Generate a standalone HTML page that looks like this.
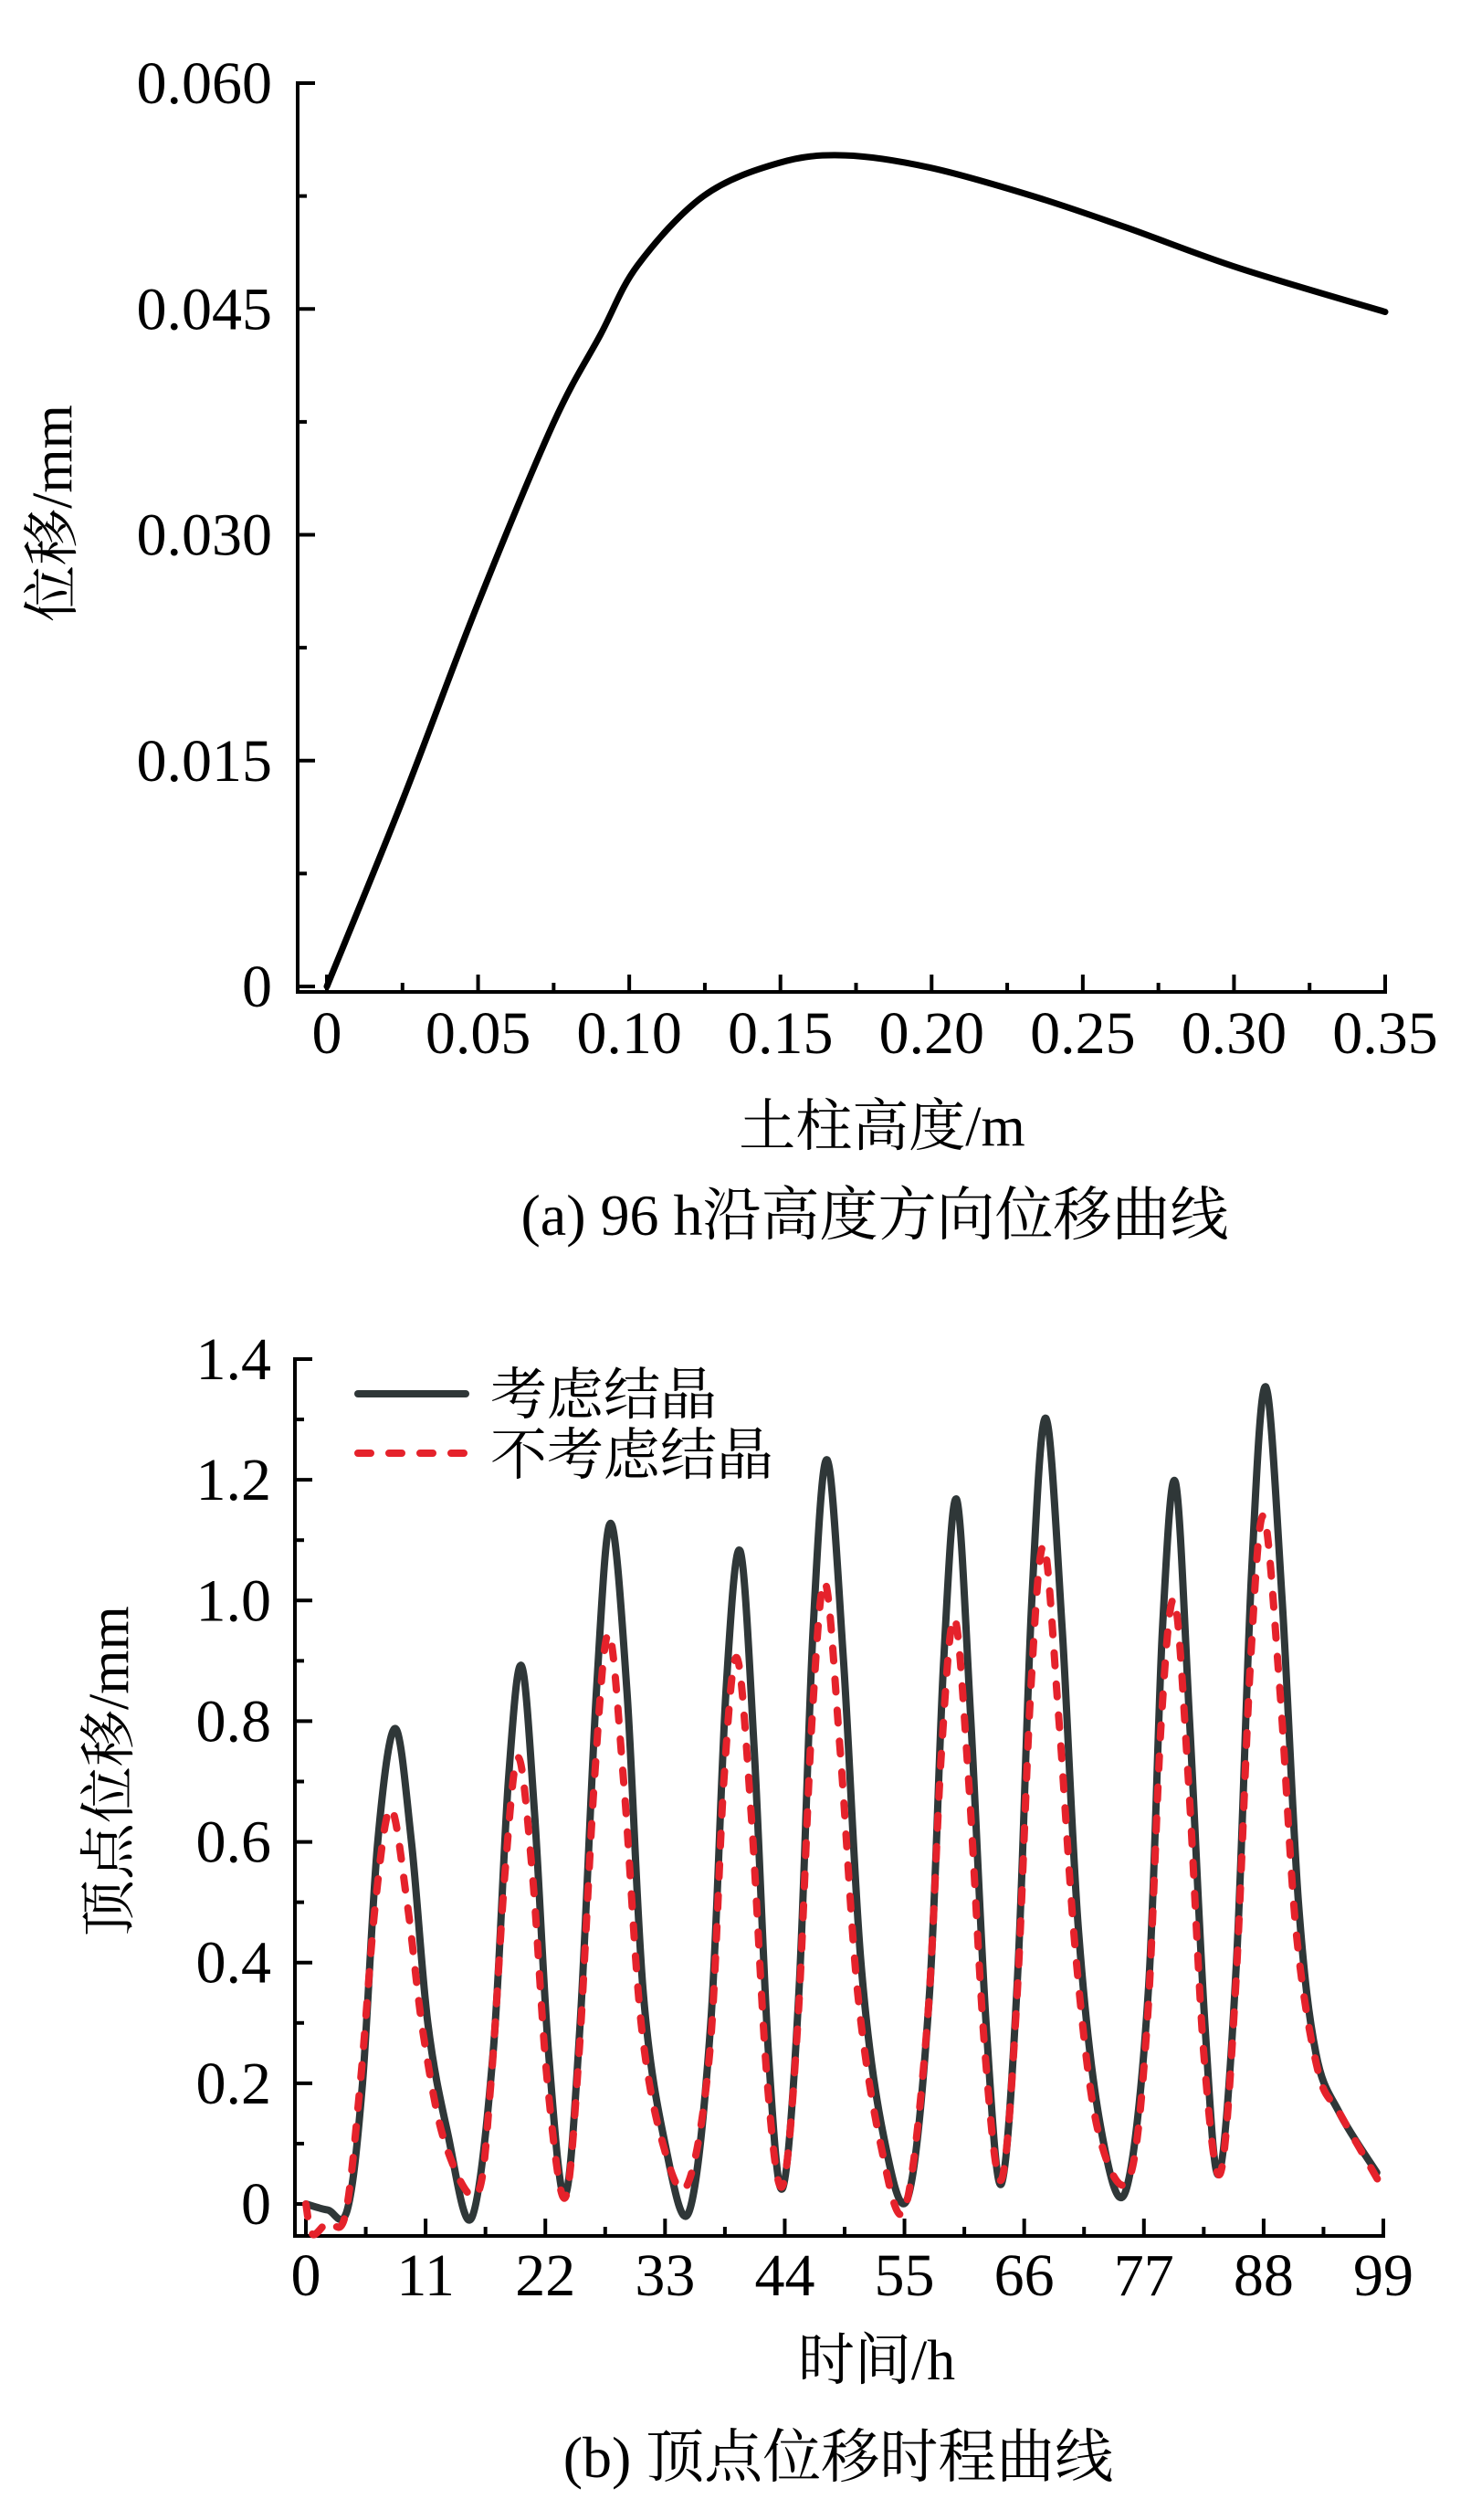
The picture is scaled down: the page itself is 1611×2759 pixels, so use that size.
<!DOCTYPE html>
<html><head><meta charset="utf-8">
<style>
html,body{margin:0;padding:0;background:#fff;}
svg{display:block;}
text{font-family:"Liberation Serif","Noto Serif CJK SC",serif;fill:#000;}
</style></head>
<body>
<svg id="fig" width="1611" height="2759" viewBox="0 0 1611 2759" xmlns="http://www.w3.org/2000/svg">
<g id="chartA"></g>
<g id="chartB"></g>
<text x="958" y="1352" font-size="64" text-anchor="middle">(a) 96 h沿高度方向位移曲线</text>
<text x="918" y="2712" font-size="64" text-anchor="middle">(b) 顶点位移时程曲线</text>
</svg>
<script>
// ---- Chart A data ----
const aHeights = [0, 0.0252, 0.05, 0.0749, 0.0905, 0.1028, 0.1246, 0.1495, 0.1713, 0.1992, 0.2334, 0.2645, 0.3018, 0.35];
const aDisp = [0, 0.01245, 0.02545, 0.0374, 0.0433, 0.0479, 0.0525, 0.0547, 0.0552, 0.0544, 0.0525, 0.0504, 0.0477, 0.0448];
const aXTicks = [0, 0.05, 0.10, 0.15, 0.20, 0.25, 0.30, 0.35];
const aXTickLabels = ["0", "0.05", "0.10", "0.15", "0.20", "0.25", "0.30", "0.35"];
const aYTicks = [0, 0.015, 0.030, 0.045, 0.060];
const aYTickLabels = ["0", "0.015", "0.030", "0.045", "0.060"];

// ---- Chart B data ----
const bTimeCryst = [0,2,3.8,5.2,6.6,8.2,9.7,11.2,13,15.2,17.2,18.6,19.8,21,22.3,23.8,25.2,26.7,28,29.5,31,33,35.2,37.2,38.6,39.9,41.2,42.5,43.8,45.3,46.6,47.9,49.4,51,53,55.3,57.3,58.6,59.8,61.1,62.5,63.9,65.4,66.7,68,69.5,71,73,75.3,77.4,78.7,79.9,81.2,82.6,83.9,85.5,86.9,88.2,89.7,91.2,92.8,95,98.4];
const bDispCryst = [0,-0.01,-0.01,0.2,0.6,0.788,0.6,0.3,0.12,-0.024,0.25,0.7,0.892,0.65,0.25,0.013,0.3,0.85,1.128,0.85,0.35,0.1,-0.013,0.3,0.85,1.082,0.75,0.25,0.026,0.35,0.95,1.233,0.9,0.4,0.12,0.01,0.35,0.9,1.167,0.8,0.3,0.033,0.38,1.0,1.302,0.95,0.45,0.13,0.02,0.35,0.95,1.196,0.8,0.3,0.05,0.4,1.05,1.354,1.0,0.5,0.25,0.15,0.052];
const bTimeNoCryst = [0,0.6,2,3.6,5,6.4,7.8,9.3,10.8,12.8,15.7,17,18.3,19.5,20.8,22.2,23.8,25.1,26.5,27.8,29.2,30.8,32.8,35,37.1,38.4,39.6,40.9,42.4,43.8,45.2,46.5,47.7,49.1,50.7,52.8,55,57.1,58.4,59.6,60.9,62.4,63.9,65.3,66.6,67.8,69.2,70.8,72.8,75.6,77.3,78.6,79.8,81.1,82.5,84,85.4,86.8,88,89.5,91,93,95,98.5];
const bDispNoCryst = [0,-0.05,-0.03,-0.02,0.2,0.5,0.655,0.5,0.28,0.1,0.015,0.2,0.55,0.74,0.55,0.2,0.01,0.25,0.7,0.945,0.7,0.3,0.1,0.03,0.25,0.7,0.905,0.65,0.2,0.03,0.3,0.8,1.03,0.75,0.35,0.1,-0.01,0.3,0.75,0.97,0.7,0.25,0.04,0.33,0.85,1.09,0.8,0.4,0.12,0.04,0.3,0.8,1.0,0.7,0.25,0.05,0.35,0.9,1.14,0.85,0.45,0.22,0.15,0.04];
const bXTicks = [0, 11, 22, 33, 44, 55, 66, 77, 88, 99];
const bXTickLabels = ["0","11","22","33","44","55","66","77","88","99"];
const bYTicks = [0, 0.2, 0.4, 0.6, 0.8, 1.0, 1.2, 1.4];
const bYTickLabels = ["0","0.2","0.4","0.6","0.8","1.0","1.2","1.4"];
const bLegendLabels = ["考虑结晶", "不考虑结晶"];

const NS = "http://www.w3.org/2000/svg";
function mk(parent, tag, attrs, text) {
  const e = document.createElementNS(NS, tag);
  for (const k in attrs) e.setAttribute(k, attrs[k]);
  if (text !== undefined) e.textContent = text;
  parent.appendChild(e);
  return e;
}
function smoothPath(px, py) {
  let d = "M" + px[0].toFixed(1) + "," + py[0].toFixed(1);
  for (let i = 0; i < px.length - 1; i++) {
    const x0 = px[Math.max(0, i - 1)], y0 = py[Math.max(0, i - 1)];
    const x1 = px[i], y1 = py[i], x2 = px[i + 1], y2 = py[i + 1];
    const x3 = px[Math.min(px.length - 1, i + 2)], y3 = py[Math.min(px.length - 1, i + 2)];
    const c1x = x1 + (x2 - x0) / 6, c1y = y1 + (y2 - y0) / 6;
    const c2x = x2 - (x3 - x1) / 6, c2y = y2 - (y3 - y1) / 6;
    d += " C" + c1x.toFixed(1) + "," + c1y.toFixed(1) + " " + c2x.toFixed(1) + "," + c2y.toFixed(1) + " " + x2.toFixed(1) + "," + y2.toFixed(1);
  }
  return d;
}

// ===== Chart A =====
(function () {
  const g = document.getElementById("chartA");
  const axX = 326, axY = 1086;
  const xS = v => 358 + v / 0.35 * (1517 - 358);
  const yS = v => 1080 - v / 0.060 * (1080 - 91);
  const ax = mk(g, "path", {d: "M" + axX + ",89 V" + axY + " H1519", fill: "none", stroke: "#000", "stroke-width": 4});
  
  
  aYTicks.forEach((v, i) => {
    const y = yS(v);
    const t = mk(g, "line", {x1: axX, x2: axX + 19, y1: y, y2: y, stroke: "#000", "stroke-width": 4});
    
    
    const l = mk(g, "text", {x: 298, y: y + 22, "font-size": 66, "text-anchor": "end"}, aYTickLabels[i]);
    
    
    if (i < aYTicks.length - 1) {
      const ym = yS((v + aYTicks[i + 1]) / 2);
      const m = mk(g, "line", {x1: axX, x2: axX + 10, y1: ym, y2: ym, stroke: "#000", "stroke-width": 4});
      
      
    }
  });
  aXTicks.forEach((v, i) => {
    const x = xS(v);
    const t = mk(g, "line", {x1: x, x2: x, y1: axY, y2: axY - 19, stroke: "#000", "stroke-width": 4});
    
    
    const l = mk(g, "text", {x: x, y: 1153, "font-size": 66, "text-anchor": "middle"}, aXTickLabels[i]);
    
    
    if (i < aXTicks.length - 1) {
      const xm = xS((v + aXTicks[i + 1]) / 2);
      const m = mk(g, "line", {x1: xm, x2: xm, y1: axY, y2: axY - 10, stroke: "#000", "stroke-width": 4});
      
      
    }
  });
  const xt = mk(g, "text", {x: 966, y: 1254, "font-size": 62, "text-anchor": "middle"}, "土柱高度/m");
  
  
  const yt = mk(g, "text", {x: 0, y: 0, "font-size": 62, "text-anchor": "middle", transform: "translate(78,562) rotate(-90)"}, "位移/mm");
  
  
  const line = mk(g, "path", {d: smoothPath(aHeights.map(xS), aDisp.map(yS)), fill: "none", stroke: "#000", "stroke-width": 7, "stroke-linecap": "round", "stroke-linejoin": "round"});
  
  
})();

// ===== Chart B =====
(function () {
  const g = document.getElementById("chartB");
  const axX = 323, axY = 2448;
  const xS = v => 335 + v / 99 * (1515 - 335);
  const yS = v => 2413 - v / 1.4 * (2413 - 1488);
  const ax = mk(g, "path", {d: "M" + axX + ",1486 V" + axY + " H1517", fill: "none", stroke: "#000", "stroke-width": 4});
  
  
  bYTicks.forEach((v, i) => {
    const y = yS(v);
    const t = mk(g, "line", {x1: axX, x2: axX + 19, y1: y, y2: y, stroke: "#000", "stroke-width": 4});
    
    
    const l = mk(g, "text", {x: 297, y: y + 22, "font-size": 66, "text-anchor": "end"}, bYTickLabels[i]);
    
    
    if (i < bYTicks.length - 1) {
      const ym = yS((v + bYTicks[i + 1]) / 2);
      const m = mk(g, "line", {x1: axX, x2: axX + 10, y1: ym, y2: ym, stroke: "#000", "stroke-width": 4});
      
      
    }
  });
  bXTicks.forEach((v, i) => {
    const x = xS(v);
    const t = mk(g, "line", {x1: x, x2: x, y1: axY, y2: axY - 19, stroke: "#000", "stroke-width": 4});
    
    
    const l = mk(g, "text", {x: x, y: 2513, "font-size": 66, "text-anchor": "middle"}, bXTickLabels[i]);
    
    
    if (i < bXTicks.length - 1) {
      const xm = xS((v + bXTicks[i + 1]) / 2);
      const m = mk(g, "line", {x1: xm, x2: xm, y1: axY, y2: axY - 10, stroke: "#000", "stroke-width": 4});
      
      
    }
  });
  const xt = mk(g, "text", {x: 960, y: 2605, "font-size": 62, "text-anchor": "middle"}, "时间/h");
  
  
  const yt = mk(g, "text", {x: 0, y: 0, "font-size": 62, "text-anchor": "start", transform: "translate(140,2120) rotate(-90)"}, "顶点位移/mm");
  
  

  const s1 = mk(g, "path", {d: smoothPath(bTimeCryst.map(xS), bDispCryst.map(yS)), fill: "none", stroke: "#2f3738", "stroke-width": 8, "stroke-linecap": "round", "stroke-linejoin": "round"});
  
  
  const s2 = mk(g, "path", {d: smoothPath(bTimeNoCryst.map(xS), bDispNoCryst.map(yS)), fill: "none", stroke: "#e5222b", "stroke-width": 8, "stroke-dasharray": "14 20", "stroke-linecap": "round", "stroke-linejoin": "round"});
  
  

  // legend
  const lg = mk(g, "g", {});
  
  
  const l1 = mk(lg, "line", {x1: 392, x2: 510, y1: 1526, y2: 1526, stroke: "#2f3738", "stroke-width": 8, "stroke-linecap": "round"});
  
  
  const t1 = mk(lg, "text", {x: 537, y: 1548, "font-size": 62}, bLegendLabels[0]);
  
  
  const l2 = mk(lg, "line", {x1: 392, x2: 510, y1: 1591, y2: 1591, stroke: "#e5222b", "stroke-width": 8, "stroke-linecap": "round", "stroke-dasharray": "14 20"});
  
  
  const t2 = mk(lg, "text", {x: 537, y: 1614, "font-size": 62}, bLegendLabels[1]);
  
  
})();
</script>
</body></html>
